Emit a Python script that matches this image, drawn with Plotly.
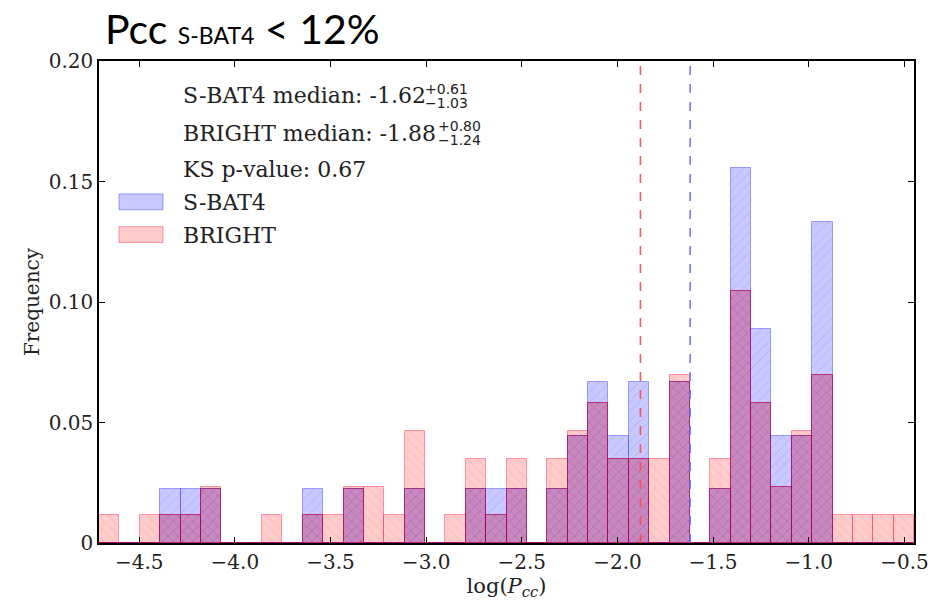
import numpy as np
import plotly.graph_objects as go

# Histogram binning of log(Pcc)
bin_start = -4.71
bin_width = 0.1065
n_bins = 40

# Counts per bin for each sample
sbat4_counts = [0, 0, 0, 1, 1, 1, 0, 0, 0, 0,
                1, 0, 1, 0, 0, 1, 0, 0, 1, 1,
                1, 0, 1, 2, 3, 2, 3, 0, 3, 0,
                1, 7, 4, 2, 2, 6, 0, 0, 0, 0]
bright_counts = [1, 0, 1, 1, 1, 2, 0, 0, 1, 0,
                 1, 1, 2, 2, 1, 4, 0, 1, 3, 1,
                 3, 0, 3, 4, 5, 3, 3, 3, 6, 0,
                 3, 9, 5, 2, 4, 6, 1, 1, 1, 1]

# Summary statistics
sbat4_median, sbat4_up, sbat4_lo = -1.62, 0.61, 1.03
bright_median, bright_up, bright_lo = -1.88, 0.80, 1.24
ks_pvalue = 0.67

x_ticks = [-4.5, -4.0, -3.5, -3.0, -2.5, -2.0, -1.5, -1.0, -0.5]
y_ticks = [0, 0.05, 0.10, 0.15, 0.20]
y_ticktext = ["0", "0.05", "0.10", "0.15", "0.20"]

edges = bin_start + bin_width * np.arange(n_bins + 1)
centers = 0.5 * (edges[:-1] + edges[1:])
sb = np.array(sbat4_counts, float)
br = np.array(bright_counts, float)
sb_freq = sb / sb.sum()
br_freq = br / br.sum()
both_freq = np.minimum(sb_freq, br_freq)

SERIF = "DejaVu Serif"
SANS = "DejaVu Sans"
BLUE_FILL = "rgba(0,0,255,0.21)"
BLUE_EDGE = "rgba(60,60,255,0.45)"
RED_FILL = "rgba(255,0,0,0.2)"
RED_EDGE = "rgba(255,40,80,0.45)"

fig = go.Figure()

fig.add_trace(go.Bar(
    x=centers, y=sb_freq, width=bin_width, name="S-BAT4",
    marker=dict(color=BLUE_FILL, line=dict(color=BLUE_EDGE, width=1),
                pattern=dict(shape="/", fgcolor="rgba(40,40,255,0.35)",
                             size=7, solidity=0.12, fillmode="overlay")),
    showlegend=False, hoverinfo="skip"))

fig.add_trace(go.Bar(
    x=centers, y=br_freq, width=bin_width, name="BRIGHT",
    marker=dict(color=RED_FILL, line=dict(color=RED_EDGE, width=1),
                pattern=dict(shape="\\", fgcolor="rgba(255,40,40,0.35)",
                             size=7, solidity=0.12, fillmode="overlay")),
    showlegend=False, hoverinfo="skip"))

# Shared part of both histograms, darkened where the two layers overlap
fig.add_trace(go.Bar(
    x=centers, y=both_freq, width=bin_width, name="overlap",
    marker=dict(color="rgba(120,0,120,0.15)",
                line=dict(color="rgba(150,0,90,0.55)", width=1),
                pattern=dict(shape="x", fgcolor="rgba(130,0,110,0.25)",
                             size=7, solidity=0.12, fillmode="overlay")),
    showlegend=False, hoverinfo="skip"))

# Median lines
fig.add_vline(x=bright_median, line=dict(color="rgba(255,70,70,0.9)", width=1.6, dash="dash"))
fig.add_vline(x=sbat4_median, line=dict(color="rgba(110,110,255,0.95)", width=1.6, dash="dash"))

# Legend drawn in plot-domain coordinates
L, R, T, B = 99, 914, 61, 547


def dx(px):
    return (px - L) / (R - L)


def dy(py):
    return (B - py) / (B - T)


ann = []
shapes = []


def legend_text(px, py, text, size=22, font=SERIF):
    ann.append(dict(x=dx(px), y=dy(py), xref="x domain", yref="y domain",
                    text=text, showarrow=False, xanchor="left", yanchor="middle",
                    font=dict(family=font, size=size, color="#222")))


# dashed line samples
for py, col in [(95, "rgba(110,110,255,0.95)"), (134, "rgba(255,70,70,0.9)")]:
    shapes.append(dict(type="line", xref="x domain", yref="y domain",
                       x0=dx(120), x1=dx(163), y0=dy(py), y1=dy(py),
                       line=dict(color=col, width=1.6, dash="dash")))
# patch samples
shapes.append(dict(type="rect", xref="x domain", yref="y domain",
                   x0=dx(119), x1=dx(163), y0=dy(211), y1=dy(195),
                   fillcolor=BLUE_FILL, line=dict(color=BLUE_EDGE, width=1)))
shapes.append(dict(type="rect", xref="x domain", yref="y domain",
                   x0=dx(119), x1=dx(163), y0=dy(244), y1=dy(228),
                   fillcolor=RED_FILL, line=dict(color=RED_EDGE, width=1)))

legend_text(181, 96, f"S-BAT4 median: {sbat4_median:.2f}")
legend_text(423, 89, f"+{sbat4_up:.2f}", size=14, font=SANS)
legend_text(423, 103, f"\u2212{sbat4_lo:.2f}", size=14, font=SANS)
legend_text(181, 134, f"BRIGHT median: {bright_median:.2f}")
legend_text(436, 127, f"+{bright_up:.2f}", size=14, font=SANS)
legend_text(436, 141, f"\u2212{bright_lo:.2f}", size=14, font=SANS)
legend_text(181, 170, f"KS p-value: {ks_pvalue:.2f}")
legend_text(181, 204, "S-BAT4")
legend_text(181, 237, "BRIGHT")

# Title above the plot area
ann.append(dict(x=dx(103), y=dy(28), xref="x domain", yref="y domain",
                text="Pcc <span style='font-size:23px'>S-BAT4</span> &lt; 12%",
                showarrow=False, xanchor="left", yanchor="middle",
                font=dict(family="Lato", size=41, color="black")))

fig.update_layout(
    width=948, height=602,
    margin=dict(l=L, r=948 - R, t=T, b=602 - B),
    paper_bgcolor="white", plot_bgcolor="white",
    barmode="overlay", bargap=0,
    annotations=ann, shapes=shapes,
    font=dict(family=SERIF, size=20, color="#222"),
)

fig.update_xaxes(
    range=[edges[0], edges[-1]], tickvals=x_ticks,
    ticktext=[f"\u2212{abs(v):.1f}" for v in x_ticks],
    showgrid=False, zeroline=False,
    showline=True, linecolor="black", linewidth=1.6, mirror="ticks",
    ticks="inside", ticklen=6, tickcolor="black",
    tickfont=dict(family=SERIF, size=20, color="#222"),
    title=dict(text="log(<i>P</i><sub><i>cc</i></sub>)", standoff=2,
               font=dict(family=SERIF, size=21, color="#222")),
)
fig.update_yaxes(
    range=[0, 0.2], tickvals=y_ticks, ticktext=y_ticktext,
    showgrid=False, zeroline=False,
    showline=True, linecolor="black", linewidth=1.6, mirror="ticks",
    ticks="inside", ticklen=6, tickcolor="black",
    tickfont=dict(family=SERIF, size=20, color="#222"),
    title=dict(text="Frequency", standoff=4,
               font=dict(family=SERIF, size=20, color="#222")),
)

fig.write_html("out.html")
